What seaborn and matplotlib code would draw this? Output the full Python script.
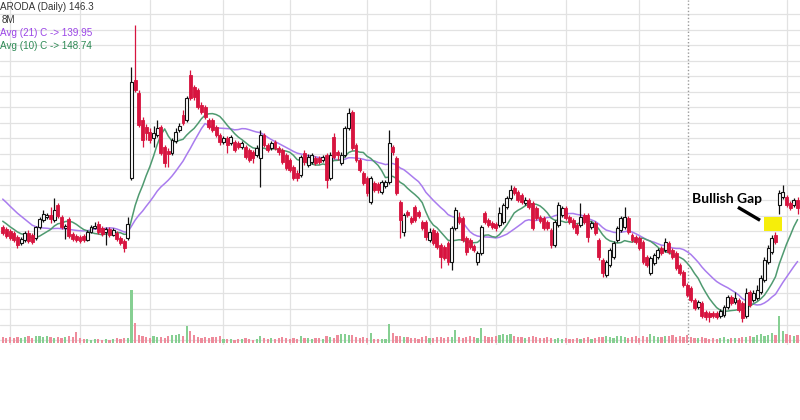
import numpy as np
import pandas as pd
import matplotlib
matplotlib.use("Agg")
import matplotlib.pyplot as plt
import seaborn as sns
from matplotlib.patches import Rectangle

# ---------------- data (daily OHLC, price units) ----------------
opens = [143.2, 142.9, 142.5, 142.2, 141.6, 140.6, 141.1, 142.2, 141.9, 141.4,
         143.2, 144.3, 144.8, 145.1, 144.3, 146.7, 144.8, 143.0, 144.5, 142.1,
         141.7, 141.6, 141.7, 141.1, 142.4, 143.0, 143.7, 143.0, 142.4, 142.9,
         141.9, 142.2, 141.4, 140.9, 141.4, 151.1,
         166.9, 164.8, 160.4, 159.3, 158.5, 157.5, 158.0, 159.3, 156.1, 155.4,
         155.1, 157.1, 158.8, 161.2, 160.4, 167.7, 165.8, 165.3, 162.9, 162.5,
         160.4, 160.4, 159.3, 158.0, 156.9, 157.5, 156.7, 156.9, 156.7, 156.1,
         156.1, 155.6, 155.3, 154.8, 154.3,
         158.0, 156.4, 155.9, 156.9, 155.9, 155.6, 154.8, 154.0, 152.9, 151.9,
         151.6, 155.1, 153.2, 153.7, 154.3, 154.3, 154.0, 154.8, 151.1, 157.7,
         155.3, 153.5, 154.8, 159.2, 161.7, 156.4, 154.0, 151.9, 151.1, 147.2,
         150.3, 150.1, 148.8, 149.8, 150.5, 156.1, 154.3, 147.2,
         142.4, 145.6, 144.6, 146.4, 145.6, 144.0, 144.0, 141.1, 142.7, 142.2,
         140.3, 140.0, 140.6, 137.5, 143.0, 144.8, 144.6, 141.4, 141.1, 140.1,
         137.5, 139.0, 145.4, 144.3, 143.8, 143.7, 143.5, 144.0, 146.4, 147.9,
         149.5, 148.8, 148.4, 147.1, 147.5, 147.1, 146.2, 144.8, 144.6, 144.0,
         142.7, 140.3, 143.5, 145.1, 146.2, 144.8, 144.3, 143.5, 143.5, 145.1,
         145.1, 143.2, 143.8, 141.1,
         137.9, 135.5, 137.1, 138.4, 141.1, 142.7, 143.2, 144.6, 141.9, 141.6,
         141.4, 140.8, 138.4, 135.8, 137.4, 138.4, 139.8, 139.5, 140.6, 139.5,
         139.0, 137.1, 135.9, 133.8, 133.4, 131.4, 130.3, 130.9, 129.5, 129.3,
         129.3, 129.3, 128.8, 129.0, 130.3, 131.9, 131.1, 131.4, 130.9, 128.8,
         132.7, 131.4, 131.7, 132.7, 134.6, 137.5, 139.2, 141.9, 146.7, 148.0,
         148.0, 147.1, 146.7, 147.5]

closes = [142.2, 141.7, 141.4, 141.1, 140.3, 141.3, 142.2, 140.9, 140.8, 143.2,
          144.5, 145.3, 145.1, 144.5, 145.9, 145.0, 143.2, 143.4, 141.7, 141.3,
          141.1, 140.9, 141.1, 142.4, 143.2, 143.4, 142.4, 142.1, 142.9, 141.9,
          142.7, 141.3, 140.6, 139.8, 143.7, 166.6,
          165.3, 159.6, 157.2, 158.3, 157.2, 158.3, 159.2, 155.1, 153.5, 155.0,
          157.2, 158.5, 159.5, 160.0, 164.0, 164.0, 164.2, 162.5, 161.7, 160.9,
          159.3, 158.8, 158.0, 156.9, 157.5, 156.4, 157.7, 155.6, 156.1, 156.7,
          154.5, 154.0, 154.3, 155.9, 158.0,
          156.4, 155.6, 156.7, 155.9, 155.3, 153.7, 152.7, 152.4, 151.1, 151.1,
          154.5, 153.7, 154.5, 154.8, 153.5, 153.7, 154.5, 150.8, 154.8, 154.5,
          154.8, 154.8, 159.2, 161.6, 155.9, 154.0, 152.4, 150.3, 148.7, 151.1,
          149.2, 149.2, 150.5, 150.5, 156.7, 155.3, 148.7, 144.3,
          145.1, 145.1, 144.0, 144.3, 145.0, 143.0, 141.6, 142.4, 140.6, 140.0,
          138.4, 138.2, 137.5, 143.0, 145.9, 144.0, 141.1, 139.2, 140.0, 139.5,
          139.0, 143.2, 144.0, 143.5, 143.2, 143.0, 145.4, 146.7, 147.9, 149.2,
          148.7, 147.5, 147.2, 147.5, 146.4, 143.0, 144.6, 144.2, 143.0, 143.0,
          140.3, 144.0, 146.7, 146.2, 144.6, 144.0, 143.2, 142.2, 144.8, 144.0,
          141.6, 143.8, 142.2, 138.4,
          135.8, 137.5, 139.5, 140.6, 143.0, 144.6, 144.8, 142.4, 141.1, 140.8,
          139.8, 137.5, 137.1, 138.2, 138.7, 139.5, 139.0, 140.8, 139.2, 138.4,
          136.6, 135.8, 133.8, 132.2, 131.4, 130.1, 131.1, 128.8, 128.7, 128.7,
          128.8, 128.7, 129.6, 130.3, 131.9, 130.9, 131.7, 129.8, 128.5, 132.5,
          130.6, 132.5, 133.0, 135.0, 137.9, 139.8, 141.4, 140.8, 148.7, 148.8,
          146.7, 146.2, 147.5, 146.3]

highs = [143.5, 143.2, 142.9, 142.5, 141.9, 141.6, 142.5, 142.7, 142.2, 143.4,
         144.8, 145.9, 145.4, 146.4, 147.9, 147.1, 145.1, 143.7, 144.8, 142.4,
         142.1, 141.9, 142.1, 142.7, 143.5, 144.0, 144.2, 143.4, 143.2, 143.2,
         143.0, 142.5, 141.7, 141.3, 144.8, 169.0,
         175.8, 165.3, 160.9, 159.8, 159.2, 159.5, 160.4, 159.6, 156.4, 155.9,
         157.5, 159.2, 160.0, 162.1, 164.3, 168.5, 166.1, 165.6, 163.3, 162.9,
         160.8, 160.8, 159.6, 158.3, 157.9, 157.9, 158.0, 157.2, 157.1, 157.1,
         156.4, 155.9, 155.6, 156.4, 158.8,
         158.3, 156.7, 157.1, 157.2, 156.3, 155.9, 155.1, 154.3, 153.2, 152.4,
         154.8, 155.6, 155.0, 155.1, 154.6, 154.6, 154.8, 155.1, 155.3, 158.3,
         155.6, 155.3, 159.5, 162.4, 162.1, 156.7, 154.3, 152.2, 151.4, 151.4,
         150.6, 150.5, 150.8, 150.8, 158.8, 156.4, 154.6, 147.5,
         145.4, 145.9, 145.0, 146.7, 145.9, 144.3, 144.3, 143.0, 143.0, 142.5,
         140.6, 140.3, 140.9, 143.4, 146.4, 145.6, 145.0, 141.7, 141.4, 140.4,
         139.3, 143.5, 145.8, 144.6, 144.2, 144.0, 146.4, 147.1, 148.2, 150.0,
         149.8, 149.2, 148.7, 148.0, 147.9, 147.4, 146.6, 145.1, 145.0, 144.3,
         143.0, 144.3, 147.2, 146.6, 146.6, 145.1, 144.6, 143.8, 147.1, 145.4,
         145.4, 144.2, 144.2, 141.4,
         138.2, 137.9, 139.8, 140.9, 143.4, 145.0, 146.4, 145.0, 142.2, 141.9,
         141.7, 141.1, 138.7, 138.5, 139.0, 139.8, 140.1, 141.4, 140.9, 139.8,
         139.3, 137.4, 136.3, 134.2, 133.7, 131.7, 131.4, 131.3, 129.8, 129.6,
         129.6, 129.6, 130.0, 130.6, 132.2, 132.2, 132.7, 131.7, 131.3, 133.4,
         133.0, 133.0, 133.8, 135.5, 138.4, 140.3, 141.9, 142.4, 149.2, 150.0,
         148.4, 147.4, 147.9, 148.0]

lows = [141.9, 141.4, 141.1, 140.8, 139.8, 140.3, 140.8, 140.6, 140.4, 141.1,
        142.9, 144.0, 144.5, 143.8, 144.0, 144.6, 142.9, 141.3, 141.4, 140.9,
        140.8, 140.6, 140.8, 140.9, 142.2, 142.9, 142.1, 141.7, 140.3, 141.6,
        141.7, 140.9, 140.3, 139.2, 141.1, 150.8,
        165.0, 159.3, 156.1, 157.2, 156.7, 156.1, 157.7, 154.8, 152.9, 152.9,
        154.8, 156.7, 158.5, 159.6, 160.1, 163.7, 163.7, 162.2, 161.4, 160.6,
        159.0, 158.5, 157.7, 156.4, 156.6, 155.1, 156.4, 155.3, 155.8, 155.8,
        154.2, 153.7, 153.5, 154.5, 149.6,
        156.1, 155.3, 155.6, 155.6, 154.8, 153.4, 152.4, 152.1, 150.8, 150.6,
        151.3, 153.2, 152.9, 153.4, 153.2, 153.4, 153.7, 149.5, 150.8, 154.2,
        154.0, 153.2, 154.5, 158.8, 155.6, 153.7, 152.1, 150.0, 148.2, 146.9,
        148.8, 148.7, 148.5, 149.5, 150.1, 154.8, 148.4, 141.4,
        141.7, 144.8, 143.7, 144.0, 144.6, 142.7, 141.1, 140.8, 140.3, 139.6,
        136.6, 137.9, 137.1, 136.3, 142.7, 143.7, 140.8, 138.7, 139.6, 139.2,
        137.1, 138.7, 143.7, 143.2, 142.9, 142.5, 143.2, 143.7, 146.1, 147.5,
        148.4, 147.2, 146.9, 146.7, 146.1, 142.7, 144.3, 143.8, 142.7, 142.7,
        139.8, 140.0, 143.2, 144.8, 144.3, 143.7, 142.9, 141.9, 143.2, 143.7,
        140.8, 142.9, 141.9, 137.9,
        135.1, 135.1, 136.7, 138.0, 140.8, 142.4, 142.9, 142.1, 140.8, 140.4,
        139.5, 137.2, 136.7, 135.5, 137.1, 138.0, 138.7, 139.2, 138.8, 138.0,
        136.3, 135.5, 133.5, 131.9, 131.1, 129.8, 130.0, 128.5, 128.2, 127.9,
        128.5, 128.4, 128.5, 128.7, 130.0, 130.6, 130.8, 129.5, 127.9, 128.5,
        130.3, 131.1, 131.4, 132.4, 134.3, 137.2, 138.8, 140.4, 145.3, 147.7,
        146.4, 145.9, 146.4, 145.3]

# volume in millions of shares
volumes = [3, 2.5, 3, 2.5, 3, 2.5, 3, 3.5, 2.5, 3.5,
           3.5, 3, 3.5, 3, 2.5, 3, 2.5, 3, 3.5, 3,
           5.5, 2.5, 2, 2, 1.5, 2, 2, 1.5, 2, 1.5,
           2, 2.5, 2, 2.5, 2.5,
           26.5, 10, 4, 3.5, 3, 2.5, 3.5, 3, 3, 2.5,
           3.5, 4, 4, 4.5, 3.5, 8.5, 6, 4, 3, 2.5,
           3, 2.5, 3, 3, 3.5, 2, 2, 2, 1.5, 2,
           2, 2.5, 2, 1.5, 2, 3.5,
           2.5, 2, 2.5, 2, 2.5, 3, 2.5, 2, 2.5, 2,
           3.5, 2.5, 2.5, 2, 2.5, 2.5, 2, 3.5, 3, 2.5,
           4, 4.5, 4.5, 4, 4, 3, 2.5, 3, 2.5, 5,
           2, 2, 2, 2, 9.5, 5, 3.5, 3.5, 3, 3,
           2.5, 2.5, 2, 3, 3.5, 2.5, 2.5, 3, 3, 2.5,
           3, 3, 6.5, 3, 2.5, 3, 3.5, 3, 2.5, 7.5,
           3.5, 3, 3, 3.5, 4, 4.5, 4, 4.5, 3.5, 3,
           3, 2.5, 3, 3.5, 3, 2.5, 2.5, 3, 2.5, 2,
           2.5, 2, 2.5, 2, 2, 2.5, 2, 2.5, 3, 2,
           2.5, 3, 3, 3.5, 3, 2.5, 3.5, 3.5, 3, 2.5,
           3, 3.5, 2.5, 3.5, 3, 4.5, 3.5, 3, 3, 3.5,
           3.5, 4, 3, 3.5, 3, 4, 3, 2.5, 2.5, 3,
           2.5, 2, 2.5, 2, 2.5, 3, 2, 2.5, 2.5, 2.5,
           3, 3, 3.5, 3, 4, 4.5, 3.5, 4, 5, 4,
           13.5, 6, 4.5, 4, 3.5, 4]

# closes of the 20 sessions before the visible window (needed for the averages)
warmup_closes = [153.2, 154.0, 152.7, 152.4, 151.6, 152.1, 150.8, 151.1, 148.4, 147.5,
                 146.7, 145.9, 146.2, 145.1, 144.6, 144.3, 143.5, 144.0, 143.0, 142.7]

month_grid = [2, 21, 40, 60, 78, 99, 116, 134, 153, 173, 213]
marker_session = 186.1

header_lines = ["ARODA (Daily) 146.3", "8M",
                "Avg (21) C -> 139.95", "Avg (10) C -> 148.74"]

# ---------------- styling ----------------
sns.set_theme(style="white")
plt.rcParams["font.family"] = ["Liberation Sans", "DejaVu Sans"]

RED = "#d7143f"
UP_EDGE = "#111111"
VOL_UP = "#86cf92"
VOL_DN = "#ee8c9c"
MA21_C = "#a97cee"
MA10_C = "#4f9a70"

n = len(closes)
idx = np.arange(n)
allc = pd.Series(warmup_closes + closes)
ma21 = allc.rolling(21).mean().iloc[-n:].to_numpy()
ma10 = allc.rolling(10).mean().iloc[-n:].to_numpy()

o = np.array(opens); c = np.array(closes)
h = np.array(highs); l = np.array(lows)
up = c >= o

fig = plt.figure(figsize=(8, 4.2), dpi=100)
ax = fig.add_axes([0, 75 / 420, 1, 345 / 420])
ax.set_xlim(-0.734, 216.66)
ax.set_ylim(124.2, 179.8)
ax.set_yticks(np.arange(125, 178, 2.5))
ax.set_xticks(month_grid)
ax.grid(True, color="#e2e2e2", lw=0.9)
ax.tick_params(length=0, labelleft=False, labelbottom=False)
for s in ax.spines.values():
    s.set_visible(False)
ax.set_axisbelow(True)

# dotted session marker
ax.axvline(marker_session, color="#9a9a9a", lw=1.0, ls=(0, (1, 1.5)), zorder=1)

# volume on twin axis
ax2 = ax.twinx()
ax2.set_ylim(-1, 171.5)
ax2.axis("off")
ax2.bar(idx, volumes, width=0.6, color=np.where(up, VOL_UP, VOL_DN), linewidth=0)

# moving averages
sns.lineplot(x=idx, y=ma21, color=MA21_C, lw=1.1, ax=ax, zorder=2)
sns.lineplot(x=idx, y=ma10, color=MA10_C, lw=1.1, ax=ax, zorder=2)

# candles
wick_col = np.where(up, UP_EDGE, RED)
ax.vlines(idx, l, h, colors=wick_col, lw=0.9, zorder=3)
body_lo = np.minimum(o, c)
body_h = np.maximum(np.abs(c - o), 0.15)
ax.bar(idx[up], body_h[up], bottom=body_lo[up], width=0.8,
       color="white", edgecolor=UP_EDGE, linewidth=0.8, zorder=4)
ax.bar(idx[~up], body_h[~up], bottom=body_lo[~up], width=0.8,
       color=RED, edgecolor=RED, linewidth=0.6, zorder=4)

# bullish gap annotation
ax.add_patch(Rectangle((206.9, 142.5), 4.9, 2.3, color="#f6ee0a", zorder=5, lw=0))
ax.plot([199.8, 205.8], [146.4, 144.3], color="black", lw=2.4,
        solid_capstyle="butt", zorder=5)
ax.text(187.3, 147.7, "Bullish Gap", fontsize=10, fontweight="bold",
        family=["Lato", "DejaVu Sans"], color="black", va="center", ha="left", zorder=6)

# header texts
fig.text(0.5 / 800, 1 - 7 / 420, header_lines[0], ha="left", va="center",
         fontsize=7.1, color="#333333")
fig.text(2 / 800, 1 - 20 / 420, header_lines[1], ha="left", va="center",
         fontsize=7.1, color="#333333")
fig.text(0.5 / 800, 1 - 33 / 420, header_lines[2], ha="left", va="center",
         fontsize=7.1, color="#9a44e6")
fig.text(0.5 / 800, 1 - 46 / 420, header_lines[3], ha="left", va="center",
         fontsize=7.1, color="#2e8a55")

fig.savefig("out.png", dpi=100)
